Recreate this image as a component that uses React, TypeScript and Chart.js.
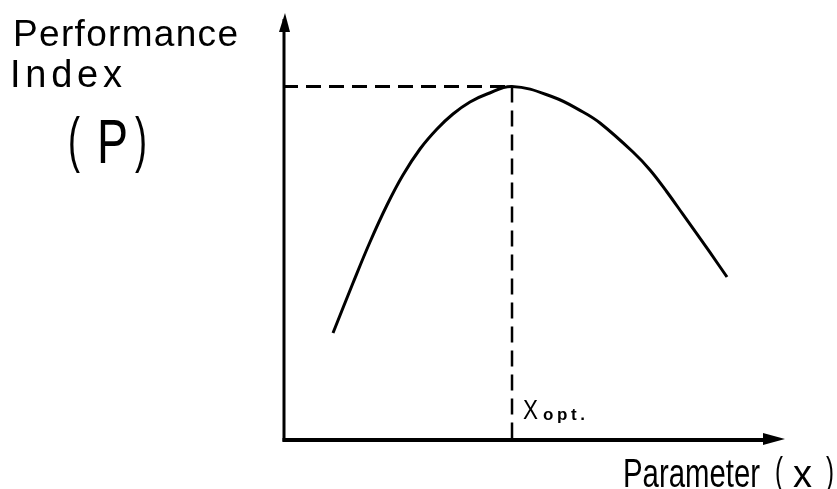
import React, { useEffect, useRef } from "react";
import { Chart, registerables } from "chart.js";

Chart.register(...registerables);

// Parameter (x) values of the performance curve and the matching performance index P
const curveX = [9.96, 13.94, 17.33, 20.72, 23.9, 27.29, 30.68, 33.86, 37.25, 40.64, 45.62, 53.78, 59.76, 63.15, 69.72, 73.11, 76.49, 79.68, 85.06, 88.45];
const curveP = [25.18, 36.94, 46.59, 55.29, 62.35, 68.47, 73.18, 76.71, 79.53, 81.41, 83.18, 80.71, 77.18, 74.59, 67.76, 63.53, 58.35, 53.08, 44.12, 38.35];
// optimum point
const xOpt = [45.62];
const pOpt = [83.18];
const axisMin = [0];
const axisMax = [100];

const labels = {
  yTitle1: "Performance",
  yTitle2: "Index",
  yOpen: "(",
  yVar: "P",
  yClose: ")",
  xTitle: "Parameter",
  xOpen: "(",
  xVar: "x",
  xClose: ")",
  opt: "X",
  optSub: "opt.",
};

const FONT = "'Liberation Sans', Arial, sans-serif";

function fitText(ctx: CanvasRenderingContext2D, text: string, left: number, baseline: number, target: number, font: string) {
  ctx.save();
  ctx.font = font;
  (ctx as any).letterSpacing = "0px";
  ctx.fillStyle = "#000";
  ctx.textBaseline = "alphabetic";
  ctx.textAlign = "left";
  const w = ctx.measureText(text).width;
  if (w > target) {
    ctx.translate(left, baseline);
    ctx.scale(target / w, 1);
    ctx.fillText(text, 0, 0);
  } else {
    const sp = text.length > 1 ? (target - w) / (text.length - 1) : 0;
    (ctx as any).letterSpacing = sp + "px";
    ctx.fillText(text, left, baseline);
  }
  ctx.restore();
}

const decorPlugin = {
  id: "decor",
  afterDraw(chart: any) {
    const ctx: CanvasRenderingContext2D = chart.ctx;
    const xs = chart.scales.x;
    const ys = chart.scales.y;
    const x0 = xs.getPixelForValue(axisMin[0]);
    const x1 = xs.getPixelForValue(axisMax[0]);
    const y0 = ys.getPixelForValue(axisMin[0]);
    const y1 = ys.getPixelForValue(axisMax[0]);
    ctx.save();
    ctx.strokeStyle = "#000";
    ctx.fillStyle = "#000";
    ctx.lineCap = "butt";
    // y axis
    ctx.lineWidth = 3;
    ctx.beginPath();
    ctx.moveTo(x0 + 1, y0 + 1.5);
    ctx.lineTo(x0 + 1, y1 + 4);
    ctx.stroke();
    ctx.beginPath();
    ctx.moveTo(x0 + 2, y1 - 2);
    ctx.lineTo(x0 - 4, y1 + 17);
    ctx.lineTo(x0 + 7, y1 + 17);
    ctx.closePath();
    ctx.fill();
    // x axis
    ctx.lineWidth = 4;
    ctx.beginPath();
    ctx.moveTo(x0 - 0.5, y0);
    ctx.lineTo(x1 - 15, y0);
    ctx.stroke();
    ctx.beginPath();
    ctx.moveTo(x1, y0 - 1);
    ctx.lineTo(x1 - 22, y0 - 7);
    ctx.lineTo(x1 - 22, y0 + 5);
    ctx.closePath();
    ctx.fill();
    ctx.restore();

    fitText(ctx, labels.yTitle1, 13, 46, 225, `37px ${FONT}`);
    fitText(ctx, labels.yTitle2, 10, 87, 112, `38px ${FONT}`);
    fitText(ctx, labels.yOpen, 68, 160, 12, `62px ${FONT}`);
    fitText(ctx, labels.yVar, 97, 163, 31, `63px ${FONT}`);
    fitText(ctx, labels.yClose, 135, 160, 12, `62px ${FONT}`);

    fitText(ctx, labels.xTitle, 623, 487, 137, `40px ${FONT}`);
    fitText(ctx, labels.xOpen, 775, 484, 8, `38px ${FONT}`);
    fitText(ctx, labels.xVar, 793, 487, 19, `38px ${FONT}`);
    fitText(ctx, labels.xClose, 826, 484, 8, `38px ${FONT}`);

    fitText(ctx, labels.opt, 523, 419, 15, `27px ${FONT}`);
    fitText(ctx, labels.optSub, 543, 420, 42, `bold 17px ${FONT}`);
  },
};

export default function App() {
  const ref = useRef<HTMLCanvasElement | null>(null);
  useEffect(() => {
    if (!ref.current) return;
    const chart = new Chart(ref.current, {
      type: "line",
      data: {
        datasets: [
          {
            label: "P",
            data: curveX.map((x, i) => ({ x, y: curveP[i] })),
            borderColor: "#000",
            borderWidth: 3,
            pointRadius: 0,
            tension: 0.4,
            fill: false,
          },
          {
            label: "Popt",
            data: [
              { x: axisMin[0], y: pOpt[0] },
              { x: xOpt[0], y: pOpt[0] },
            ],
            borderColor: "#000",
            borderWidth: 3,
            borderDash: [15, 8],
            pointRadius: 0,
            tension: 0,
          },
          {
            label: "Xopt",
            data: [
              { x: xOpt[0], y: pOpt[0] },
              { x: xOpt[0], y: axisMin[0] },
            ],
            borderColor: "#000",
            borderWidth: 2.5,
            borderDash: [16, 8],
            pointRadius: 0,
            tension: 0,
          },
        ],
      },
      options: {
        animation: false,
        responsive: false,
        maintainAspectRatio: false,
        layout: { padding: { left: 283, right: 52, top: 15, bottom: 49 } },
        plugins: { legend: { display: false }, tooltip: { enabled: false }, title: { display: false } },
        scales: {
          x: { type: "linear", min: axisMin[0], max: axisMax[0], display: false },
          y: { type: "linear", min: axisMin[0], max: axisMax[0], display: false },
        },
      } as any,
      plugins: [decorPlugin],
    });
    return () => chart.destroy();
  }, []);
  return (
    <div style={{ position: "absolute", left: 0, top: 0, width: 837, height: 489, background: "#fff", overflow: "hidden" }}>
      <canvas ref={ref} width={837} height={489} style={{ display: "block", width: 837, height: 489 }} />
    </div>
  );
}
